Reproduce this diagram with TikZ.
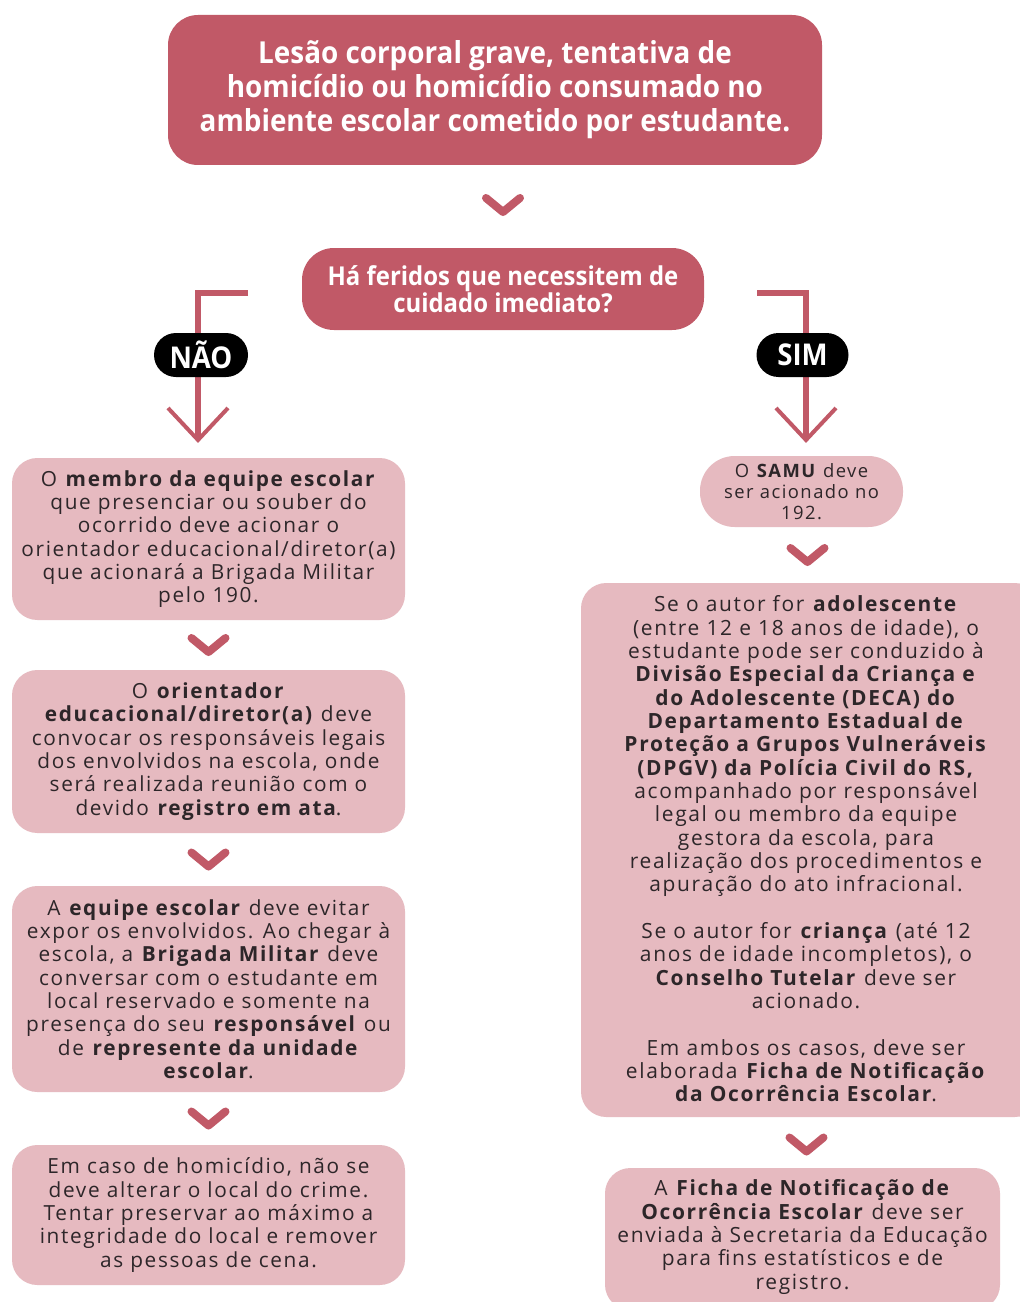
\documentclass[tikz,border=0pt]{standalone}
\usepackage{fontspec}
\setmainfont{Open Sans}
\newfontfamily\bodyfont[LetterSpace=8]{Open Sans}
\newfontfamily\headfont[FakeStretch=0.92]{Open Sans}
\usetikzlibrary{calc}
\definecolor{rose}{RGB}{193,89,103}
\definecolor{pinkbox}{RGB}{230,186,192}
\definecolor{txt}{RGB}{45,38,41}
\begin{document}
\begin{tikzpicture}[x=0.75pt,y=-0.75pt,
  headbox/.style={fill=rose, rounded corners=22.5pt, inner sep=0pt, text=white, align=center},
  pinkbox/.style={fill=pinkbox, rounded corners=19pt, inner sep=0pt, text=txt, align=center,
     font=\bodyfont\fontsize{15.6}{17.5}\selectfont},
  bodytext/.style={inner sep=0pt, text=txt, align=center, font=\bodyfont\fontsize{15.7}{17.5}\selectfont},
  pill/.style={fill=black, rounded corners=16.5pt, inner sep=0pt, text=white,
     font=\headfont\bfseries\fontsize{22.5}{24}\selectfont},
  chevron/.style={draw=rose, line width=6pt, line cap=round, line join=round},
  branch/.style={draw=rose, line width=3.8pt},
  barb/.style={draw=rose, line width=3pt, line cap=butt}
]
\useasboundingbox (0,0) rectangle (1020,1302);
\clip (0,0) rectangle (1020,1302);
\fill[white] (0,0) rectangle (1020,1302);

% top box
\node[headbox, minimum width=490.5pt, minimum height=112.5pt,
      font=\headfont\bfseries\fontsize{22.7}{25.5}\selectfont] (top) at (495,90)
  {Lesão corporal grave, tentativa de\\homicídio ou homicídio consumado no\\ambiente escolar cometido por estudante.};

% question
\node[headbox, minimum width=301.5pt, minimum height=61.5pt, rounded corners=24pt,
      font=\headfont\bfseries\fontsize{19.5}{20.3}\selectfont] (q) at (503,289)
  {Há feridos que necessitem de\\cuidado imediato?};

% left column
\node[pinkbox, minimum width=294.75pt, minimum height=121.5pt] (l1) at (208.5,539)
  {O \textbf{membro da equipe escolar}\\que presenciar ou souber do\\ocorrido deve acionar o\\orientador educacional/diretor(a)\\que acionará a Brigada Militar\\pelo 190.};
\node[pinkbox, minimum width=294.75pt, minimum height=122.25pt] (l2) at (208.5,751.5)
  {O \textbf{orientador}\\\textbf{educacional/diretor(a)} deve\\convocar os responsáveis legais\\dos envolvidos na escola, onde\\será realizada reunião com o\\devido \textbf{registro em ata}.};
\node[pinkbox, minimum width=294.75pt, minimum height=154.5pt] (l3) at (208.5,989)
  {A \textbf{equipe escolar} deve evitar\\expor os envolvidos. Ao chegar à\\escola, a \textbf{Brigada Militar} deve\\conversar com o estudante em\\local reservado e somente na\\presença do seu \textbf{responsável} ou\\de \textbf{represente da unidade}\\\textbf{escolar}.};
\node[pinkbox, minimum width=294.75pt, minimum height=105pt] (l4) at (208.5,1215)
  {Em caso de homicídio, não se\\deve alterar o local do crime.\\Tentar preservar ao máximo a\\integridade do local e remover\\as pessoas de cena.};

% right column
\node[pinkbox, minimum width=152.25pt, minimum height=53.25pt, rounded corners=26pt,
      font=\bodyfont\fontsize{13.8}{15.7}\selectfont] (r1) at (801.5,491.5)
  {O \textbf{SAMU} deve\\ser acionado no\\192.};
\node[pinkbox, minimum width=344.25pt, minimum height=400.5pt] (r2) at (810.5,850) {};
\node[bodytext] (r2t) at (806,849)
  {Se o autor for \textbf{adolescente}\\(entre 12 e 18 anos de idade), o\\estudante pode ser conduzido à\\\textbf{Divisão Especial da Criança e}\\\textbf{do Adolescente (DECA) do}\\\textbf{Departamento Estadual de}\\\textbf{Proteção a Grupos Vulneráveis}\\\textbf{(DPGV) da Polícia Civil do RS,}\\acompanhado por responsável\\legal ou membro da equipe\\gestora da escola, para\\realização dos procedimentos e\\apuração do ato infracional.\\[17.5pt]Se o autor for \textbf{criança} (até 12\\anos de idade incompletos), o\\\textbf{Conselho Tutelar} deve ser\\acionado.\\[17.5pt]Em ambos os casos, deve ser\\elaborada \textbf{Ficha de Notificação}\\\textbf{da Ocorrência Escolar}.};
\node[pinkbox, minimum width=296.25pt, minimum height=106.5pt] (r3) at (802.5,1239) {};
\node[bodytext] (r3t) at (802.5,1237)
  {A \textbf{Ficha de Notificação de}\\\textbf{Ocorrência Escolar} deve ser\\enviada à Secretaria da Educação\\para fins estatísticos e de\\registro.};

% chevrons between boxes
\coordinate (c0) at (503,205);
\draw[chevron] ($(c0)+(-17,-7)$) -- ($(c0)+(0,7)$) -- ($(c0)+(17,-7)$);
\coordinate (c1) at ($(l1.south)!0.5!(l2.north)$);
\draw[chevron] ($(c1)+(-17,-7)$) -- ($(c1)+(0,7)$) -- ($(c1)+(17,-7)$);
\coordinate (c2) at ($(l2.south)!0.5!(l3.north)$);
\draw[chevron] ($(c2)+(-17,-7)$) -- ($(c2)+(0,7)$) -- ($(c2)+(17,-7)$);
\coordinate (c3) at ($(l3.south)!0.5!(l4.north)$);
\draw[chevron] ($(c3)+(-17,-7)$) -- ($(c3)+(0,7)$) -- ($(c3)+(17,-7)$);
\coordinate (c4) at ($(r1.south)!0.5!(r2.north)+(1.5,0)$);
\draw[chevron] ($(c4)+(-17,-7)$) -- ($(c4)+(0,7)$) -- ($(c4)+(17,-7)$);
\coordinate (c5) at ($(r2.south)!0.5!(r3.north)+(0,2)$);
\draw[chevron] ($(c5)+(-17,-7)$) -- ($(c5)+(0,7)$) -- ($(c5)+(17,-7)$);

% branches
\coordinate (ns) at (248,293);
\coordinate (nt) at (198,440);
\coordinate (ss) at (757,293);
\coordinate (st) at (806,440);
\draw[branch] (ns) -| (nt);
\draw[branch] (ss) -| (st);
\draw[barb] ($(nt)+(-30,-32)$) -- (nt) -- ($(nt)+(30,-32)$);
\draw[barb] ($(st)+(-30,-32)$) -- (st) -- ($(st)+(30,-32)$);
\node[pill, minimum width=70.5pt, minimum height=33pt] (nao) at (201,355) {NÃO};
\node[pill, minimum width=69pt, minimum height=33pt] (sim) at (802.5,355) {SIM};
\end{tikzpicture}
\end{document}
